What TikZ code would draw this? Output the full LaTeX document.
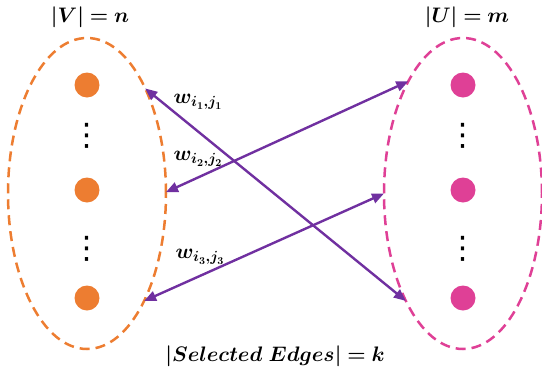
\documentclass[tikz,border=0pt]{standalone}
\usepackage{fix-cm}
\usepackage{amsmath,amssymb,bm}
\usepackage{fontspec}
\usepackage{tikz}
\usetikzlibrary{arrows.meta,shapes.geometric}
\newfontfamily\dotsfont{DejaVu Sans}
\definecolor{vorange}{HTML}{ED7D31}
\definecolor{upink}{HTML}{DF4096}
\definecolor{epurple}{HTML}{7030A0}

\begin{document}
\begin{tikzpicture}[
  x=1pt, y=-1pt,
  lbl/.style={font=\fontsize{21}{24}\selectfont, inner sep=1pt},
  vset/.style={ellipse, draw, line width=2.5pt, dash pattern=on 10pt off 6pt,
    minimum width=158pt, minimum height=311pt, inner sep=0pt, outer sep=0pt},
  vtx/.style={circle, minimum size=25pt, inner sep=0pt},
  vdts/.style={font=\dotsfont\fontsize{31}{32}\selectfont, inner sep=0pt},
  link/.style={{Triangle[length=12pt,width=10pt]}-{Triangle[length=12pt,width=10pt]},
    line width=2.4pt, draw=epurple}
]
\useasboundingbox (0,0) rectangle (542,373);

\node[vset, draw=vorange] (Vset) at (87,193.5) {};
\node[vset, draw=upink] (Uset) at (463,193.5) {};

\node[vtx, fill=vorange] (v1) at (87,85) {};
\node[vtx, fill=vorange] (v2) at (87,190) {};
\node[vtx, fill=vorange] (v3) at (87,298) {};
\node[vdts] (vd1) at (87,136) {⋮};
\node[vdts] (vd2) at (87,249) {⋮};

\node[vtx, fill=upink] (u1) at (463,85) {};
\node[vtx, fill=upink] (u2) at (463,190) {};
\node[vtx, fill=upink] (u3) at (463,298) {};
\node[vdts] (ud1) at (463,136) {⋮};
\node[vdts] (ud2) at (463,249) {⋮};

\node[lbl] (Vsize) at (90,17) {$\bm{|V| = n}$};
\node[lbl] (Usize) at (467,17) {$\bm{|U| = m}$};

\draw[link] (Vset.61.5) -- (Uset.242.5);
\draw[link] (Vset.1) -- (Uset.116.9);
\draw[link] (Vset.298) -- (Uset.180);

\node[lbl] (w1) at (198,102) {$\bm{w_{i_1,j_1}}$};
\node[lbl] (w2) at (198,159) {$\bm{w_{i_2,j_2}}$};
\node[lbl] (w3) at (200,257) {$\bm{w_{i_3,j_3}}$};

\node[lbl] (ksel) at (275,356) {$\bm{|Selected\ Edges| = k}$};
\end{tikzpicture}
\end{document}
